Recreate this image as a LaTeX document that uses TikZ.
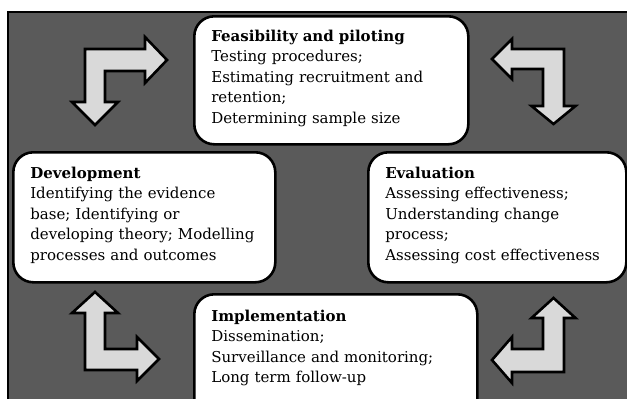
\documentclass[tikz,border=0pt]{standalone}
\usepackage{fontspec}
\setmainfont{DejaVu Serif}
\usetikzlibrary{shapes}
\definecolor{bggray}{HTML}{5A5A5A}
\definecolor{arwgray}{HTML}{D9D9D9}
\tikzstyle{phs}=[draw=black,fill=white,line width=2.6pt,rounded corners=20pt,align=left,anchor=north west,inner xsep=17pt,inner ysep=0pt,font=\fontsize{15}{20.5}\selectfont]
\tikzstyle{blk}=[draw=black,fill=arwgray,line width=2.6pt,line join=miter]

\begin{document}
\begin{tikzpicture}[x=1pt,y=-1pt]
\useasboundingbox (0,0) rectangle (627,399);
\clip (0,0) rectangle (627,399);
\fill[white] (0,0) rectangle (627,399);
\draw[fill=bggray,line width=2.4pt] (8,12) rectangle (640,410);
% phase boxes
\node[phs,minimum width=274pt,minimum height=128pt,text width=240pt] (feas) at (193,15)
  {\textbf{Feasibility and piloting}\\Testing procedures;\\Estimating recruitment and\\retention;\\Determining sample size\rule[-8pt]{0pt}{0pt}};
\node[phs,minimum width=262pt,minimum height=130pt,text width=228pt] (devel) at (12,151)
  {\textbf{Development}\\Identifying the evidence\\base; Identifying or\\developing theory; Modelling\\processes and outcomes\rule[-8pt]{0pt}{0pt}};
\node[phs,minimum width=258pt,minimum height=130pt,text width=224pt] (evalu) at (367,151)
  {\textbf{Evaluation}\\Assessing effectiveness;\\Understanding change\\process;\\Assessing cost effectiveness\rule[-8pt]{0pt}{0pt}};
\node[phs,minimum width=283pt,minimum height=130pt,text width=249pt] (implm) at (193,293)
  {\textbf{Implementation}\\Dissemination;\\Surveillance and monitoring;\\Long term follow-up\rule[-26pt]{0pt}{0pt}};
% block arrows
\draw[blk] (167,60)--(145,37)--(145,49)--(85,49)--(85,102)--(72,102)--(95,125)--(118,102)--(105,102)--(105,71)--(145,71)--(145,83)--cycle;
\draw[blk] (492,59)--(512,39)--(512,49)--(564,49)--(564,106)--(575.5,106)--(553.5,124)--(531.5,106)--(543,106)--(543,69)--(512,69)--(512,79)--cycle;
\draw[blk] (95,292)--(118,313)--(105,313)--(105,349)--(137,349)--(137,337)--(159,359)--(137,381)--(137,370)--(85,370)--(85,313)--(72,313)--cycle;
\draw[blk] (553.5,298)--(575.5,318)--(564,318)--(564,372)--(512,372)--(512,383)--(492,360)--(512,337)--(512,349)--(543,349)--(543,318)--(531.5,318)--cycle;
\end{tikzpicture}
\end{document}
